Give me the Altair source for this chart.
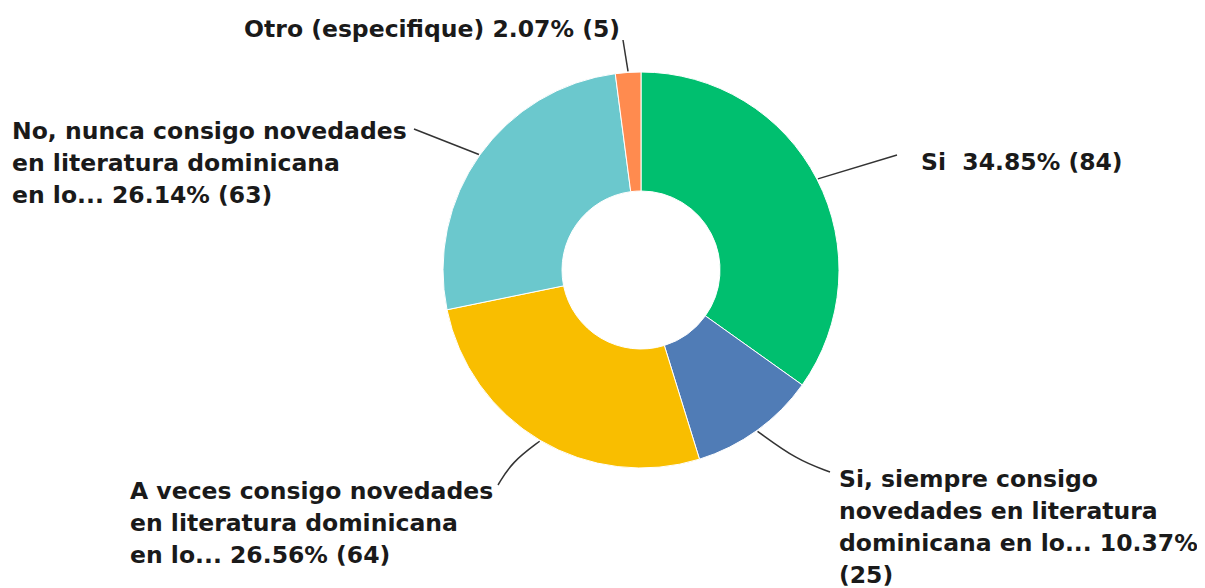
import math
import altair as alt
import pandas as pd

# ---- data ----
categories = [
    "Si",
    "Si, siempre consigo novedades en literatura dominicana en lo...",
    "A veces consigo novedades en literatura dominicana en lo...",
    "No, nunca consigo novedades en literatura dominicana en lo...",
    "Otro (especifique)",
]
percents = [34.85, 10.37, 26.56, 26.14, 2.07]
counts = [84, 25, 64, 63, 5]
label_texts = [
    "Si\u00a0 34.85% (84)",
    "Si, siempre consigo\nnovedades en literatura\ndominicana en lo... 10.37%\n(25)",
    "A veces consigo novedades\nen literatura dominicana\nen lo... 26.56% (64)",
    "No, nunca consigo novedades\nen literatura dominicana\nen lo... 26.14% (63)",
    "Otro (especifique) 2.07% (5)",
]
colors = ["#00BF6F", "#507CB6", "#F9BE00", "#6BC8CD", "#FF8B4F"]

# ---- layout (pixels inside the chart) ----
W, H = 1189, 580
CX, CY = 633, 262
R_OUT, R_IN = 198, 79
label_anchor = [(913, 162, "left"), (831, 479, "left"), (122, 491, "left"),
                (4, 131, "left"), (612, 29, "right")]
leader_ends = [[(889, 147)], [(789, 452), (822, 464)], [(504, 454), (490, 477)],
               [(406, 121)], [(615, 32)]]
FONT = "DejaVu Sans"
FSIZE = 23.5

slices = pd.DataFrame({"cat": categories, "count": counts, "pct": percents,
                       "ord": list(range(len(categories)))})

# leader lines start at the middle angle of each slice
total = sum(counts)
rows = []
cum = 0
for i, c in enumerate(counts):
    mid = (cum + c / 2) / total * 2 * math.pi
    cum += c
    sx = CX + (R_OUT + 1) * math.sin(mid)
    sy = CY - (R_OUT + 1) * math.cos(mid)
    pts = [(sx, sy)] + leader_ends[i]
    for j, (px, py) in enumerate(pts):
        rows.append({"key": i, "o": j, "x": px, "y": py})
leaders = pd.DataFrame(rows)

labels = pd.DataFrame({
    "text": label_texts,
    "x": [a[0] for a in label_anchor],
    "y": [a[1] for a in label_anchor],
    "align": [a[2] for a in label_anchor],
})

xs = alt.Scale(domain=[0, W], nice=False, zero=False)
ys = alt.Scale(domain=[H, 0], nice=False, zero=False)

donut = alt.Chart(slices).mark_arc(
    radius=R_OUT, radius2=R_IN, stroke="white", strokeWidth=1
).encode(
    theta=alt.Theta("count:Q", stack=True),
    order=alt.Order("ord:Q"),
    color=alt.Color("cat:N", scale=alt.Scale(domain=categories, range=colors), legend=None),
    x=alt.value(CX),
    y=alt.value(CY),
)

lines = alt.Chart(leaders).mark_line(
    color="#333333", strokeWidth=1.5, interpolate="basis"
).encode(
    x=alt.X("x:Q", scale=xs, axis=None),
    y=alt.Y("y:Q", scale=ys, axis=None),
    detail="key:N",
    order="o:Q",
)

def text_layer(align):
    return alt.Chart(labels[labels["align"] == align]).mark_text(
        align=align, baseline="alphabetic", lineBreak="\n", lineHeight=32,
        font=FONT, fontSize=FSIZE, fontWeight="bold", color="#1a1a1a"
    ).encode(
        x=alt.X("x:Q", scale=xs, axis=None),
        y=alt.Y("y:Q", scale=ys, axis=None),
        text="text:N",
    )

chart = alt.layer(donut, lines, text_layer("left"), text_layer("right")).properties(
    width=W, height=H, padding=0, autosize=alt.AutoSizeParams(type="none")
).configure_view(stroke=None)

chart.save("out.html", embed_options={"renderer": "svg", "actions": False})
